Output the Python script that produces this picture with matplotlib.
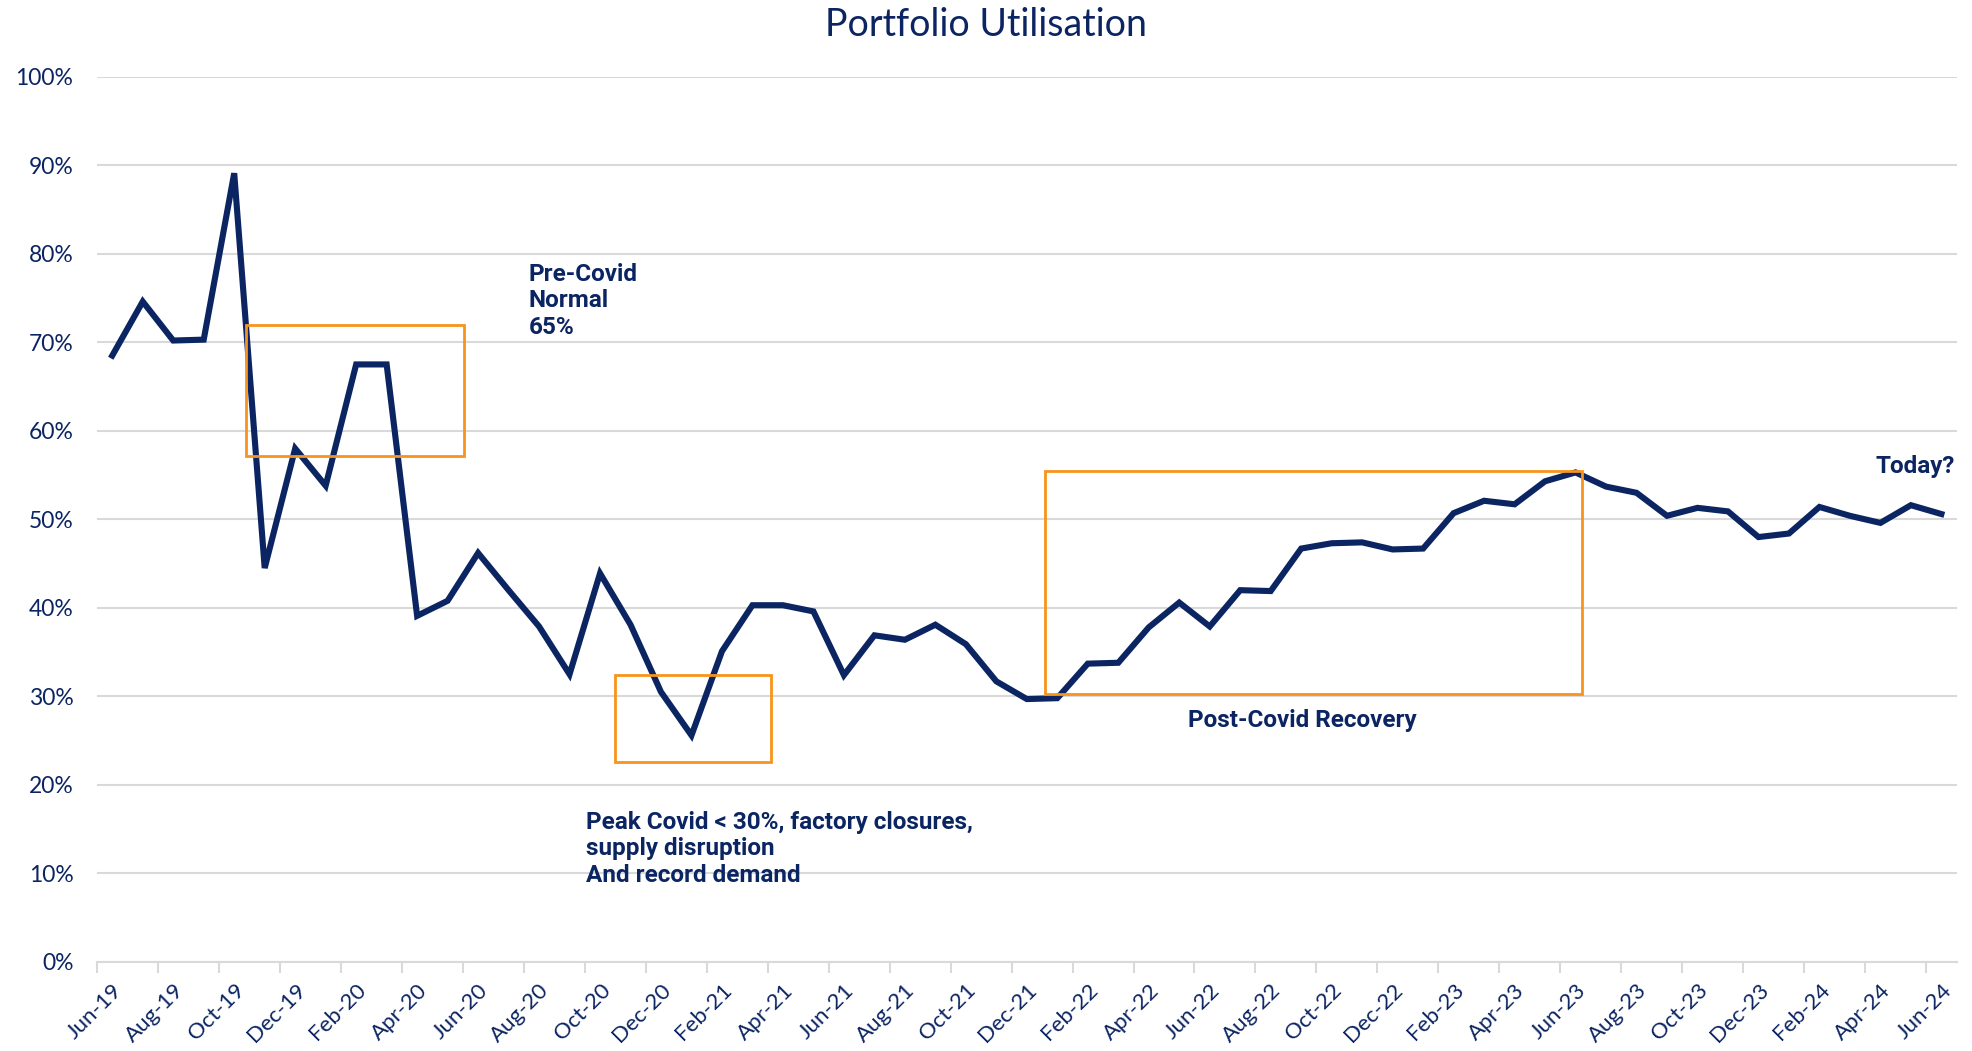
"""
Portfolio Utilisation, Jun-19 to Jun-24 (monthly)
"""

import numpy as np
import matplotlib.pyplot as plt
from matplotlib.patches import Rectangle

# monthly utilisation, %
months = ['Jun-19', 'Jul-19', 'Aug-19', 'Sep-19', 'Oct-19', 'Nov-19', 'Dec-19',
          'Jan-20', 'Feb-20', 'Mar-20', 'Apr-20', 'May-20', 'Jun-20', 'Jul-20',
          'Aug-20', 'Sep-20', 'Oct-20', 'Nov-20', 'Dec-20', 'Jan-21', 'Feb-21',
          'Mar-21', 'Apr-21', 'May-21', 'Jun-21', 'Jul-21', 'Aug-21', 'Sep-21',
          'Oct-21', 'Nov-21', 'Dec-21', 'Jan-22', 'Feb-22', 'Mar-22', 'Apr-22',
          'May-22', 'Jun-22', 'Jul-22', 'Aug-22', 'Sep-22', 'Oct-22', 'Nov-22',
          'Dec-22', 'Jan-23', 'Feb-23', 'Mar-23', 'Apr-23', 'May-23', 'Jun-23',
          'Jul-23', 'Aug-23', 'Sep-23', 'Oct-23', 'Nov-23', 'Dec-23', 'Jan-24',
          'Feb-24', 'Mar-24', 'Apr-24', 'May-24', 'Jun-24']
utilisation = [68.5, 74.6, 70.2, 70.3, 89.1, 44.5, 58.0, 53.8, 67.5, 67.5,
               39.1, 40.8, 46.2, 42.0, 37.9, 32.5, 43.9, 38.1, 30.5, 25.6,
               35.1, 40.3, 40.3, 39.6, 32.4, 36.9, 36.4, 38.1, 35.9, 31.7,
               29.7, 29.8, 33.7, 33.8, 37.8, 40.6, 37.9, 42.0, 41.9, 46.7,
               47.3, 47.4, 46.6, 46.7, 50.7, 52.1, 51.7, 54.3, 55.3, 53.7,
               53.0, 50.4, 51.3, 50.9, 48.0, 48.4, 51.4, 50.4, 49.6, 51.6,
               50.6]

# highlight boxes: (x0, x1, y0, y1) in month index / %
boxes = [(4.4, 11.55, 57.2, 72.0),
         (16.5, 21.6, 22.6, 32.4),
         (30.6, 48.2, 30.3, 55.5)]

notes = [(13.65, 79.0, 'Pre-Covid\nNormal\n65%', 'top'),
         (15.55, 17.1, 'Peak Covid < 30%, factory closures,\nsupply disruption\nAnd record demand', 'top'),
         (35.3, 27.3, 'Post-Covid Recovery', 'center'),
         (57.85, 56.0, 'Today?', 'center')]

NAVY = '#0B2462'
ORANGE = '#F7941D'
GRID = '#D9D9D9'
LABEL_FONT = 'Lato'

x = np.arange(len(months))

fig = plt.figure(figsize=(19.72, 10.51), dpi=100)
ax = fig.add_axes([0.0492, 0.0847, 0.943, 0.8423])

ax.plot(x, utilisation, color=NAVY, linewidth=4.4, solid_joinstyle='miter', zorder=3)

for x0, x1, y0, y1 in boxes:
    ax.add_patch(Rectangle((x0, y0), x1 - x0, y1 - y0, fill=False,
                           edgecolor=ORANGE, linewidth=2, zorder=4))

for tx, ty, txt, va in notes:
    ax.text(tx, ty, txt, color=NAVY, fontsize=17.5, fontweight='bold',
            family='Roboto', va=va, ha='left', linespacing=1.2)

ax.set_xlim(-0.5, len(months) - 0.5)
ax.set_ylim(0, 100)

ax.set_yticks(np.arange(0, 101, 10))
ax.set_yticklabels([f'{v}%' for v in range(0, 101, 10)])
ax.yaxis.grid(True, color=GRID, linewidth=1.5)
ax.set_axisbelow(True)

ax.set_xticks(x[::2])
ax.set_xticklabels(months[::2], rotation=45, ha='right', rotation_mode='anchor')
ax.set_xticks(np.arange(-0.5, len(months), 2), minor=True)
ax.tick_params(axis='x', which='major', length=0, pad=13)
ax.tick_params(axis='x', which='minor', length=8, width=1.5, color=GRID)
ax.tick_params(axis='y', length=0, pad=17)

for lab in ax.get_xticklabels():
    lab.set_fontsize(16)
for lab in ax.get_yticklabels():
    lab.set_fontsize(16.5)
for lab in ax.get_xticklabels() + ax.get_yticklabels():
    lab.set_fontfamily(LABEL_FONT)
    lab.set_color(NAVY)

for side in ['top', 'right', 'left']:
    ax.spines[side].set_visible(False)
ax.spines['bottom'].set_color(GRID)
ax.spines['bottom'].set_linewidth(1.5)

fig.text(0.5, 0.993, 'Portfolio Utilisation', ha='center', va='top',
         fontsize=27, color=NAVY, family=LABEL_FONT)

plt.savefig('out.png', dpi=100)
